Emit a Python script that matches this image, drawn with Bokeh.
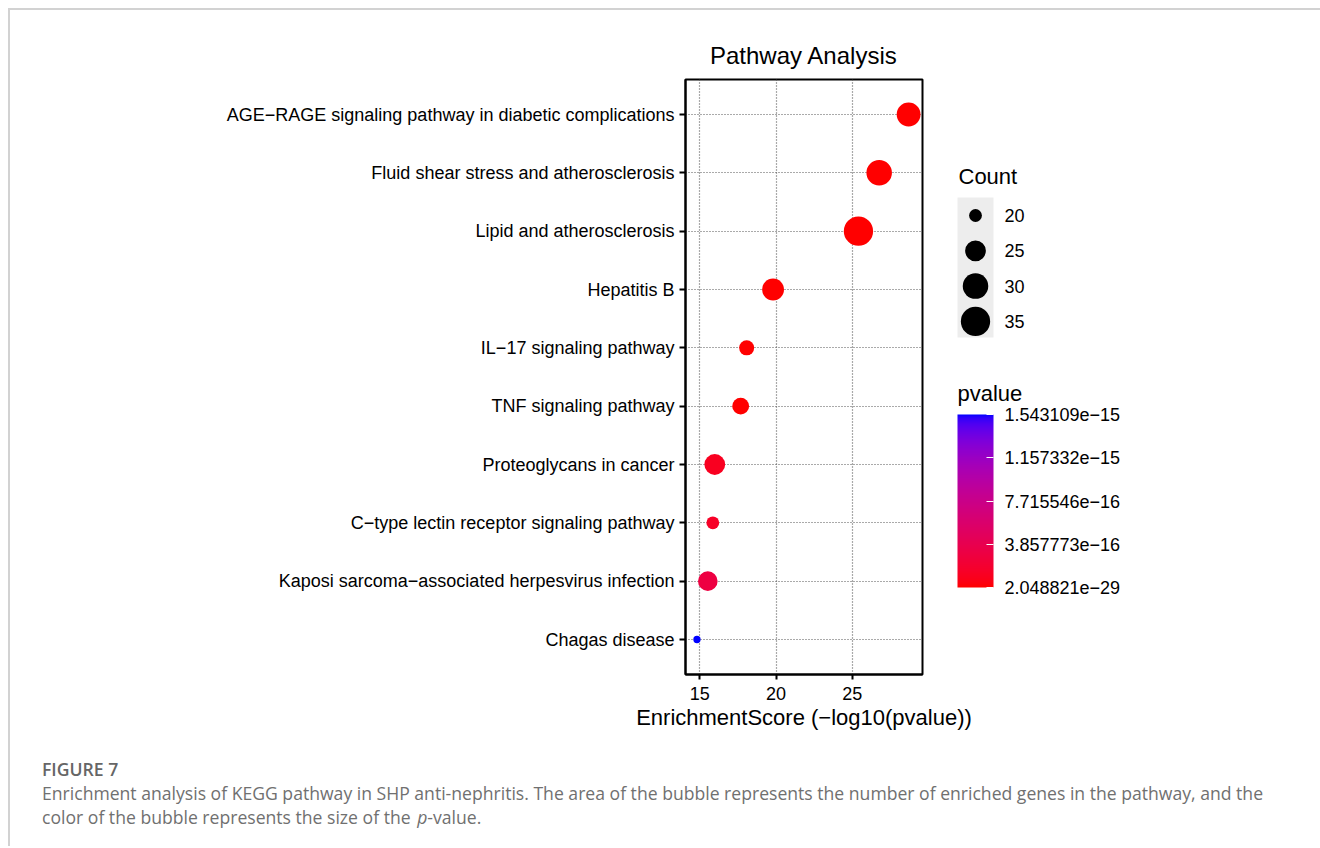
import math
import numpy as np
from bokeh.plotting import figure
from bokeh.models import (ColumnDataSource, FactorRange, Range1d, LinearColorMapper,
                          ColorBar, FixedTicker, CustomJSTickFormatter, Div)
from bokeh.layouts import row, column
from bokeh.core.properties import value
from bokeh.embed import file_html
from bokeh.resources import INLINE

# ---------------- data ----------------
pathways = [
    "AGE\u2212RAGE signaling pathway in diabetic complications",
    "Fluid shear stress and atherosclerosis",
    "Lipid and atherosclerosis",
    "Hepatitis B",
    "IL\u221217 signaling pathway",
    "TNF signaling pathway",
    "Proteoglycans in cancer",
    "C\u2212type lectin receptor signaling pathway",
    "Kaposi sarcoma\u2212associated herpesvirus infection",
    "Chagas disease",
]
pvalues = [2.048821e-29, 1.74e-27, 3.98e-26, 1.58e-20, 8.5e-19,
           2.1e-18, 1.05e-16, 1.41e-16, 3.0e-16, 1.543109e-15]
counts = [28, 30, 35, 26, 21, 22, 25, 20, 24, 19]

count_breaks = [20, 25, 30, 35]
cbar_ticks = [2.048821e-29, 3.857773e-16, 7.715546e-16, 1.157332e-15, 1.543109e-15]
x_ticks = [15, 20, 25]

FONT = "Liberation Sans"

# ---------------- helpers ----------------
cmin, cmax = min(counts), max(counts)
def diam(c):
    return 7.3 + 22.0 * math.sqrt((c - cmin) / (cmax - cmin))

def _lin(c):
    return c / 12.92 if c <= 0.04045 else ((c + 0.055) / 1.055) ** 2.4
def _gam(c):
    return 12.92 * c if c <= 0.0031308 else 1.055 * c ** (1 / 2.4) - 0.055
M = np.array([[0.4124564, 0.3575761, 0.1804375],
              [0.2126729, 0.7151522, 0.0721750],
              [0.0193339, 0.1191920, 0.9503041]])
Minv = np.linalg.inv(M)
WHITE = np.array([0.95047, 1.0, 1.08883])
def _f(t):
    return t ** (1 / 3) if t > (6 / 29) ** 3 else t / (3 * (6 / 29) ** 2) + 4 / 29
def _finv(t):
    return t ** 3 if t > 6 / 29 else 3 * (6 / 29) ** 2 * (t - 4 / 29)
def hex2lab(h):
    rgb = [_lin(int(h[i:i + 2], 16) / 255) for i in (1, 3, 5)]
    xyz = M @ np.array(rgb) / WHITE
    fx, fy, fz = [_f(v) for v in xyz]
    return np.array([116 * fy - 16, 500 * (fx - fy), 200 * (fy - fz)])
def lab2hex(lab):
    L, a, b = lab
    fy = (L + 16) / 116
    fx = fy + a / 500
    fz = fy - b / 200
    xyz = np.array([_finv(fx), _finv(fy), _finv(fz)]) * WHITE
    rgb = Minv @ xyz
    out = [min(255, max(0, round(_gam(min(1, max(0, v))) * 255))) for v in rgb]
    return "#%02x%02x%02x" % tuple(out)

lo, hi = hex2lab("#ff0000"), hex2lab("#0000ff")
palette = [lab2hex(lo + (hi - lo) * t) for t in np.linspace(0, 1, 256)]
mapper = LinearColorMapper(palette=palette, low=min(pvalues), high=max(pvalues))

scores = [-math.log10(p) for p in pvalues]
src = ColumnDataSource(dict(pathway=pathways, score=scores, pvalue=pvalues,
                            count=counts, d=[diam(c) for c in counts]))

# ---------------- main plot ----------------
FT, FB, FH = 69, 66, 595          # border top / bottom, frame height
p = figure(x_range=Range1d(14.06, 29.6),
           y_range=FactorRange(factors=list(reversed(pathways)), range_padding=0.1,
                               range_padding_units="absolute"),
           frame_width=237, frame_height=FH,
           min_border_left=675, min_border_right=60, min_border_top=FT, min_border_bottom=FB,
           output_backend="svg", toolbar_location=None, title="Pathway Analysis")
p.title.text_font = FONT
p.title.text_font_size = "24px"
p.title.text_font_style = "normal"
p.title.align = "center"
p.title.text_color = "black"
p.title.standoff = 22

p.scatter(x="score", y="pathway", size="d", source=src,
          fill_color={"field": "pvalue", "transform": mapper}, line_color=None)

p.outline_line_color = "black"
p.outline_line_width = 2
p.outline_line_alpha = 1
p.background_fill_color = "white"
p.border_fill_color = "white"

for ax in (p.xaxis[0], p.yaxis[0]):
    ax.axis_line_color = "black"
    ax.axis_line_width = 2
    ax.major_tick_line_color = "black"
    ax.major_tick_line_width = 2
    ax.major_tick_in = 0
    ax.minor_tick_line_color = None
    ax.major_label_text_font = FONT
    ax.major_label_text_font_size = "18px"
    ax.major_label_text_color = "black"

p.xaxis.ticker = FixedTicker(ticks=x_ticks)
p.xaxis.major_tick_out = 5
p.xaxis.major_label_standoff = 7
p.xaxis.axis_label = "EnrichmentScore (\u2212log10(pvalue))"
p.xaxis.axis_label_text_font = FONT
p.xaxis.axis_label_text_font_size = "22px"
p.xaxis.axis_label_text_font_style = "normal"
p.xaxis.axis_label_text_color = "black"
p.xaxis.axis_label_standoff = 2
p.yaxis.major_tick_out = 6
p.yaxis.major_label_standoff = 5

p.xgrid.ticker = FixedTicker(ticks=x_ticks)
for g in (p.xgrid[0], p.ygrid[0]):
    g.grid_line_color = "#555555"
    g.grid_line_dash = "1 2"
    g.grid_line_width = 1.2

# ---------------- legend panel (page coordinates) ----------------
LX0, LW = 940, 340                 # page x where the legend panel starts, its width
PY0 = 10 + FT                      # page y of the frame top
MAIN_W = 675 + 237 + 60
lf = figure(x_range=Range1d(LX0, LX0 + LW), y_range=Range1d(PY0 + FH, PY0),
            frame_width=LW, frame_height=FH, min_border_left=0, min_border_right=0,
            min_border_top=FT, min_border_bottom=FB,
            output_backend="svg", toolbar_location=None,
            styles={"margin-left": f"-{10 + MAIN_W - LX0}px"})
lf.axis.visible = False
lf.grid.visible = False
lf.outline_line_color = None
lf.background_fill_color = None
lf.border_fill_color = None

key_x = 975
key_y = [215 + 35.3 * i for i in range(len(count_breaks))]
lf.text(x=[958], y=[176], text=["Count"], text_font=value(FONT),
        text_font_size="22px", text_baseline="middle", text_color="black")
lf.rect(x=[key_x], y=[267], width=36, height=140, fill_color="#ededed", line_color=None)
lf.scatter(x=[key_x] * len(count_breaks), y=key_y, size=[diam(c) for c in count_breaks],
           fill_color="black", line_color=None)
lf.text(x=[1004] * len(count_breaks), y=key_y, text=[str(c) for c in count_breaks],
        text_font=value(FONT), text_font_size="18px", text_baseline="middle",
        text_color="black")

bar_top, bar_bot, bar_left = 414, 587, 957
lf.text(x=[bar_left], y=[393], text=["pvalue"], text_font=value(FONT),
        text_font_size="22px", text_baseline="middle", text_color="black")
cb = ColorBar(color_mapper=mapper, ticker=FixedTicker(ticks=cbar_ticks),
              formatter=CustomJSTickFormatter(code="return tick.toExponential(6).replace('-', '\u2212');"),
              width=36, height=bar_bot - bar_top,
              location=(bar_left - LX0, PY0 + FH - bar_bot),
              padding=0,
              major_label_text_font=FONT, major_label_text_font_size="18px",
              major_label_text_color="black", label_standoff=11,
              major_tick_line_color="white", major_tick_line_width=1.2,
              major_tick_in=7, major_tick_out=0, minor_tick_line_color=None,
              bar_line_color=None, border_line_color=None, background_fill_color=None)
lf.add_layout(cb, "center")
# white ticks on the left inner edge of the bar
tick_y = [bar_bot - (t - min(pvalues)) / (max(pvalues) - min(pvalues)) * (bar_bot - bar_top)
          for t in cbar_ticks]
lf.segment(x0=[bar_left] * len(tick_y), x1=[bar_left + 7] * len(tick_y), y0=tick_y, y1=tick_y,
           line_color="white", line_width=1.2)

# ---------------- caption ----------------
cap_html = (
    "<div style=\"font-family:'Open Sans'; font-size:17.6px; line-height:24px; color:#707070;"
    " padding:12px 0 0 27px; width:1262px;\">"
    "<div style='font-weight:600; color:#666666;'>FIGURE 7</div>"
    "<div>Enrichment analysis of KEGG pathway in SHP anti-nephritis. The area of the bubble "
    "represents the number of enriched genes in the pathway, and the color of the bubble "
    "represents the size of the <i style='padding-left:2px'>p</i>-value.</div></div>"
)
cap = Div(text=cap_html, width=1300, height=96)

layout = column(row(p, lf), cap,
                styles={"margin-left": "8px", "margin-top": "8px",
                        "border-top": "2px solid #d2d2d2", "border-left": "2px solid #d2d2d2"})

open("out.html", "w").write(file_html(layout, INLINE))
